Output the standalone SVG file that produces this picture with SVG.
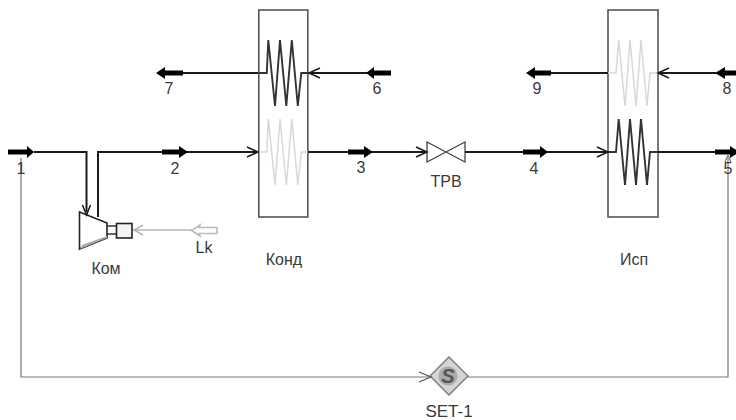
<svg xmlns="http://www.w3.org/2000/svg" width="736" height="420" viewBox="0 0 736 420">
<style>
text{font-family:"Liberation Sans",Arial,sans-serif;font-size:16px;fill:#3a3a3a;text-anchor:middle}
.s{fill:none;stroke:#1a1a1a;stroke-width:2}
.t{fill:none;stroke:#000;stroke-width:5}
.h{fill:#000;stroke:none}
.o{fill:none;stroke:#1a1a1a;stroke-width:1.5}
.box{fill:#fff;stroke:#555;stroke-width:1.6}
.dark{fill:none;stroke:#333;stroke-width:1.900}
.light{fill:none;stroke:#d8d8d8;stroke-width:1.500}
.g{fill:none;stroke:#777;stroke-width:1.200}
</style>
<defs>
<path id="coilA" d="M0 0H8L9.500 -33L16.200 33L21.200 -33L27.500 33L33 -33L39 33L42.500 0H49"/>
<path id="coilB" d="M0 0H8L10.700 -33L17 33L22 -33L28 33L33 -33L39 33L42 0H50"/>
</defs>
<rect width="736" height="420" fill="#fff"/>
<g id="Kond">
<rect class="box" x="258.800" y="10" width="49" height="207"/>
<use href="#coilA" x="258.800" y="73" class="dark"/>
<use href="#coilA" x="258.800" y="152" class="light"/>
<text x="284" y="265">Конд</text>
</g>
<g id="Isp">
<rect class="box" x="608" y="10" width="50" height="207"/>
<use href="#coilB" x="608" y="73" class="light"/>
<use href="#coilB" x="608" y="152" class="dark"/>
<text x="634" y="265">Исп</text>
</g>
<g id="Kom">
<path d="M79.500 212L107 223V238L79.500 249Z" fill="#fff" stroke="#222" stroke-width="1.600"/>
<path d="M82 245L107 236V238L80 249Z" fill="#aaa"/>
<path d="M107 226H116M107 234H116" stroke="#333" stroke-width="1.500" fill="none"/>
<rect x="116.500" y="223.500" width="15.500" height="14.500" fill="#f4f4f4" stroke="#222" stroke-width="1.600"/>
<text x="106" y="274">Ком</text>
</g>
<g id="TPB">
<path d="M427 142L465 162V142L427 162Z" fill="#fff" stroke="#444" stroke-width="1.300"/>
<text x="446" y="187">ТРВ</text>
</g>
<g id="SET-1">
<path d="M449 357L468 376L449 395L430 376Z" fill="#d4d4d4" stroke="#777" stroke-width="1.300"/>
<circle cx="448" cy="376" r="9.500" fill="#aaa"/>
<text x="448" y="383" style="font-size:20px;font-weight:bold;font-style:italic;fill:#555">S</text>
<text x="449" y="417" style="font-size:17px">SET-1</text>
</g>
<g id="connectors">
<path class="s" d="M34 152H86.500V212"/>
<path class="t" d="M8 152H27"/><path class="h" d="M27 146L34 152L27 158Z"/>
<path class="o" d="M82.500 205L86.500 215L90.500 205"/>
<path class="s" d="M98 217V152H258"/>
<path class="t" d="M162 152H180"/><path class="h" d="M179 146L188 152L179 158Z"/>
<path class="o" d="M247 147L258 152L247 157"/>
<path class="s" d="M308 152H426"/>
<path class="t" d="M348 152H365"/><path class="h" d="M364 146L373 152L364 158Z"/>
<path class="o" d="M416 147L427 152L416 157"/>
<path class="s" d="M465 152H607"/>
<path class="t" d="M523 152H541"/><path class="h" d="M540 146L548 152L540 158Z"/>
<path class="o" d="M597 147L608 152L597 157"/>
<path class="s" d="M658 152H736"/>
<path class="t" d="M715 152H736"/><path class="h" d="M730 146L736 150V154L730 158Z"/>
<path class="s" d="M367 73H308"/>
<path class="t" d="M391 73H373"/><path class="h" d="M374 67L366 73L374 79Z"/>
<path class="o" d="M320 68L309 73L320 78"/>
<path class="s" d="M258 73H165"/>
<path class="t" d="M183 73H164"/><path class="h" d="M165 67L156 73L165 79Z"/>
<path class="s" d="M716 73H658"/>
<path class="t" d="M736 73H724"/><path class="h" d="M725 67L715 73L725 79Z"/>
<path class="o" d="M669 68L658 73L669 78"/>
<path class="s" d="M608 73H535"/>
<path class="t" d="M551 73H534"/><path class="h" d="M535 67L526 73L535 79Z"/>
<path d="M133 230H192" fill="none" stroke="#b5b5b5" stroke-width="1.500"/>
<path d="M143 225L134 230L143 235" fill="none" stroke="#b5b5b5" stroke-width="1.500"/>
<path d="M217 227.500H199L200 225L191.500 230.500L200 236L199 233.500H217Z" fill="#fff" stroke="#bbb" stroke-width="1.600"/>
<path class="g" d="M21 158V377H431"/>
<path class="o" d="M419 372L431 377L419 382" style="stroke:#555;stroke-width:1.200"/>
<path class="g" d="M467 377H728V158"/>
<path class="g" d="M725 162L728 155L731 162"/>
</g>
<g id="labels">
<text x="21" y="174">1</text>
<text x="175" y="174">2</text>
<text x="361" y="173">3</text>
<text x="534" y="174">4</text>
<text x="728" y="174">5</text>
<text x="377" y="94">6</text>
<text x="169" y="94">7</text>
<text x="727" y="94">8</text>
<text x="537" y="94">9</text>
<text x="204" y="253">Lk</text>
</g>
</svg>
